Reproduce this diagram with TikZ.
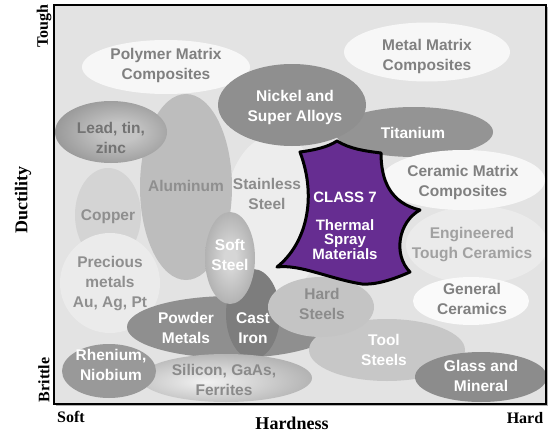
\documentclass[tikz,border=0pt]{standalone}
\usepackage{fontspec}
\setmainfont{Liberation Serif}
\newfontfamily\lsans{Liberation Sans}
\usetikzlibrary{shapes.geometric}
\definecolor{bgc}{HTML}{E3E3E3}
\definecolor{whitish}{HTML}{F7F7F7}
\definecolor{txtg}{HTML}{808080}
\definecolor{purp}{HTML}{662D91}
\definecolor{leadin}{HTML}{C4C4C4}
\definecolor{leadout}{HTML}{6A6A6A}
\definecolor{softin}{HTML}{D6D6D6}
\definecolor{softout}{HTML}{848484}
\definecolor{siin}{HTML}{F2F2F2}
\definecolor{siout}{HTML}{888888}
\pgfdeclareradialshading{leadshade}{\pgfpoint{4bp}{0bp}}{color(0bp)=(leadin); color(8bp)=(leadin); color(50bp)=(leadout); color(100bp)=(leadout)}
\pgfdeclareradialshading{softshade}{\pgfpoint{0bp}{0bp}}{color(0bp)=(softin); color(6bp)=(softin); color(50bp)=(softout); color(100bp)=(softout)}
\pgfdeclareradialshading{sishade}{\pgfpoint{-6bp}{-4bp}}{color(0bp)=(siin); color(50bp)=(siout); color(100bp)=(siout)}
\begin{document}
\begin{tikzpicture}[x=1pt,y=-1pt,
  blob/.style={ellipse, inner sep=0pt, draw=none},
  lbl/.style={font=\lsans\bfseries\fontsize{15.5}{20}\selectfont, align=center, inner sep=0pt},
  lblg/.style={lbl, text=txtg},
  lblw/.style={lbl, text=white},
  axislbl/.style={font=\bfseries\fontsize{16}{16}\selectfont, inner sep=0pt},
  axisname/.style={font=\bfseries\fontsize{18}{18}\selectfont, inner sep=0pt}]
\useasboundingbox (0,0) rectangle (552,434);
\fill[white] (0,0) rectangle (552,434);
% frame shadow and background
\fill[gray!60] (56,7) rectangle (548,406);
\fill[bgc] (54,5) rectangle (546,404);
\begin{scope}
\clip (54,5) rectangle (546,404);
\node[blob, fill=white!93!black, minimum width=100, minimum height=160] (stainless) at (275,215) {};
\node[blob, fill=white!83!black, minimum width=66, minimum height=94] (copper) at (108,215) {};
\node[blob, fill=white!74!black, minimum width=92, minimum height=186] (aluminum) at (186,187) {};
\node[blob, fill=white!92!black, minimum width=100, minimum height=100] (precious) at (110,283) {};
\node[blob, shading=leadshade, minimum width=112, minimum height=62] (lead) at (111,132) {};
\node[blob, fill=whitish, minimum width=168, minimum height=54] (polymer) at (166,67) {};
\node[blob, fill=whitish, minimum width=166, minimum height=59] (metal) at (427,52) {};
\node[blob, fill=white!58!black, minimum width=158, minimum height=50] (titanium) at (414,132) {};
\node[blob, fill=white!56!black, minimum width=148, minimum height=82] (nickel) at (292,105) {};
\node[blob, fill=white!92!black, minimum width=142, minimum height=78] (engineered) at (477,245) {};
\node[blob, fill=white!97!black, minimum width=164, minimum height=60] (ceramic) at (463,180) {};
\node[blob, fill=white!98!black, minimum width=116, minimum height=48] (general) at (471,301) {};
\node[blob, fill=white!56!black, minimum width=210, minimum height=62] (powder) at (232,327) {};
\node[blob, fill=white!49!black, minimum width=54, minimum height=90] (castiron) at (253,314) {};
\node[blob, shading=softshade, minimum width=50, minimum height=92] (softsteel) at (230,258) {};
\node[blob, fill=white!78!black, minimum width=156, minimum height=62] (tool) at (387,350) {};
\node[blob, fill=white!77!black, minimum width=106, minimum height=60] (hard) at (321,307) {};
\node[blob, fill=white!55!black, minimum width=132, minimum height=50] (glass) at (481,377) {};
\node[blob, shading=sishade, minimum width=172, minimum height=48] (silicon) at (226,378) {};
\node[blob, fill=white!60!black, minimum width=94, minimum height=54] (rhenium) at (109,371) {};
% thermal spray shape
\draw[fill=purp, line width=3pt, line join=round]
  (300,152) .. controls (315,150) and (328,147) .. (337,141)
  .. controls (350,149) and (365,151) .. (381,153)
  .. controls (381,180) and (390,203) .. (420,210)
  .. controls (398,222) and (393,255) .. (410,272)
  .. controls (392,280) and (375,285) .. (362,284)
  .. controls (330,279) and (300,264) .. (277,267)
  .. controls (305,245) and (318,200) .. (300,152) -- cycle;
\end{scope}
\draw[line width=1.5pt] (54,5) rectangle (546,404);
% labels
\node[lblg] (t-polymer) at (166,65) {Polymer Matrix\\Composites};
\node[lblg] (t-metal) at (427,56) {Metal Matrix\\Composites};
\node[lblw] (t-nickel) at (295,107) {Nickel and\\Super Alloys};
\node[lblw] (t-titanium) at (413,133) {Titanium};
\node[lbl, text=white!45!black] (t-lead) at (111,138) {Lead, tin,\\zinc};
\node[lbl, text=white!56!black] (t-aluminum) at (186,186) {Aluminum};
\node[lbl, text=white!55!black] (t-stainless) at (267,194) {Stainless\\Steel};
\node[lbl, text=white!56!black] (t-copper) at (108,217) {Copper};
\node[lbl, text=white!56!black] (t-precious) at (110,284) {Precious\\metals\\Au, Ag, Pt};
\node[lblw] (t-soft) at (230,255) {Soft\\Steel};
\node[lblg] (t-ceramic) at (463,182) {Ceramic Matrix\\Composites};
\node[lbl, text=white!63!black] (t-engineered) at (472,245) {Engineered\\Tough Ceramics};
\node[lblg] (t-general) at (472,299) {General\\Ceramics};
\node[lbl, text=white!55!black] (t-hard) at (322,304) {Hard\\Steels};
\node[lblw] (t-cast) at (253,328) {Cast\\Iron};
\node[lblw] (t-powder) at (186,328) {Powder\\Metals};
\node[lblw] (t-tool) at (384,350) {Tool\\Steels};
\node[lblw] (t-glass) at (481,376) {Glass and\\Mineral};
\node[lblw] (t-rhenium) at (111,365) {Rhenium,\\Niobium};
\node[lbl, text=white!54!black] (t-silicon) at (224,380) {Silicon, GaAs,\\Ferrites};
\node[lblw, font=\lsans\bfseries\fontsize{15}{15}\selectfont] (t-class) at (345,197) {CLASS 7};
\node[lblw, font=\lsans\bfseries\fontsize{15}{13.5}\selectfont] (t-thermal) at (345,239.5) {Thermal\\Spray\\Materials};
% axis labels
\node[axislbl, rotate=90] (tough) at (44,26) {Tough};
\node[axislbl, rotate=90] (brittle) at (44,380) {Brittle};
\node[axisname, rotate=90] (ductility) at (23,200) {Ductility};
\node[axislbl] (soft) at (71,417) {Soft};
\node[axislbl] (hardend) at (525,418) {Hard};
\node[axisname] (hardness) at (292,423) {Hardness};
\end{tikzpicture}
\end{document}
